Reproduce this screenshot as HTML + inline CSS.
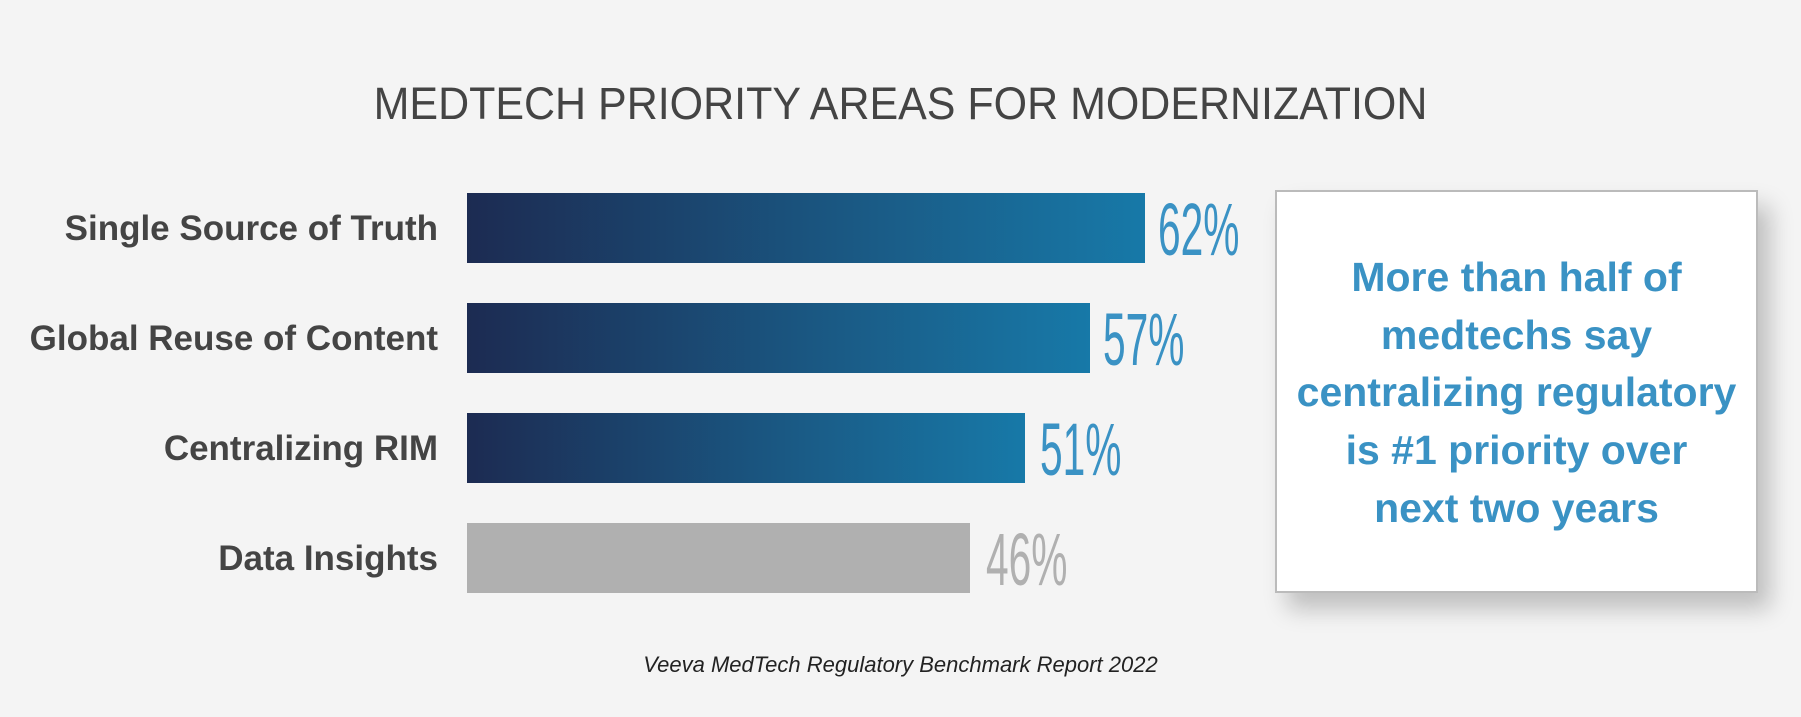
<!DOCTYPE html>
<html><head><meta charset="utf-8"><style>
body{margin:0;width:1801px;height:717px;background:#f4f4f4;position:relative;overflow:hidden;font-family:"Liberation Sans",sans-serif}
.t{position:absolute;white-space:nowrap}
.lab{position:absolute;right:1363px;color:#444;font-size:35px;font-weight:bold;transform:scaleX(1.0);transform-origin:right center;white-space:nowrap}
.bar{position:absolute;left:467px;height:70px;background:linear-gradient(to right,#1c2b52,#1a5b86 60%,#1779a8)}
.pct{position:absolute;font-size:74px;color:#3a92c4;transform:scaleX(0.55);transform-origin:left center;white-space:nowrap;line-height:70px}
</style></head><body>
<div class="t" style="left:0;width:1801px;text-align:center;top:78px;font-size:45px;color:#444;transform:scaleX(0.955)">MEDTECH PRIORITY AREAS FOR MODERNIZATION</div>

<div class="lab" style="top:209px">Single Source of Truth</div>
<div class="lab" style="top:319px">Global Reuse of Content</div>
<div class="lab" style="top:429px">Centralizing RIM</div>
<div class="lab" style="top:539px">Data Insights</div>

<div class="bar" style="top:193px;width:678px"></div>
<div class="bar" style="top:303px;width:623px"></div>
<div class="bar" style="top:413px;width:558px"></div>
<div class="bar" style="top:523px;width:503px;background:#b0b0b0"></div>

<div class="pct" style="left:1158px;top:195px">62%</div>
<div class="pct" style="left:1103px;top:305px">57%</div>
<div class="pct" style="left:1040px;top:415px">51%</div>
<div class="pct" style="left:986px;top:525px;color:#b0b0b0">46%</div>

<div style="position:absolute;left:1275px;top:190px;width:479px;height:399px;background:#fff;border:2px solid #bbb;box-shadow:12px 16px 22px rgba(0,0,0,0.22)"></div>
<div class="t" style="left:1275px;width:483px;top:249px;text-align:center;color:#3a92c4;font-size:41px;font-weight:bold;line-height:57.7px">More than half of<br>medtechs say<br>centralizing regulatory<br>is #1 priority over<br>next two years</div>

<div class="t" style="left:0;width:1801px;text-align:center;top:652px;font-size:22px;font-style:italic;color:#222">Veeva MedTech Regulatory Benchmark Report 2022</div>
</body></html>
